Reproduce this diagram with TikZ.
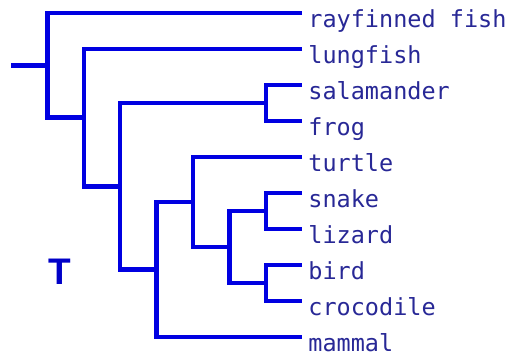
\documentclass[tikz,border=0pt]{standalone}
\usepackage{fontspec}
\usepackage{tikz}
\usetikzlibrary{positioning,calc}
\usepackage{xcolor}
\newfontfamily\leaffont{DejaVu Sans Mono}
\newfontfamily\markfont{Liberation Sans}
\definecolor{treeblue}{RGB}{0,0,225}
\definecolor{leafblue}{RGB}{40,40,150}
\definecolor{markblue}{RGB}{0,0,200}
\tikzset{
  branch/.style={draw=treeblue, line width=4.5pt},
  leaf/.style={anchor=base west, inner sep=0pt, text=leafblue, font=\leaffont\fontsize{23.5}{26}\selectfont}
}

\begin{document}
\begin{tikzpicture}[x=1pt, y=-1pt]
\useasboundingbox (0,0) rectangle (516,357);

\coordinate (stub) at (11,65.3);
\coordinate (nA) at (47.4,65.3);
\coordinate (nB) at (83.8,117.6);
\coordinate (nC) at (120.2,186.25);
\coordinate (nD) at (156.6,269.5);
\coordinate (nE) at (193,202);
\coordinate (nF) at (229.4,247);
\coordinate (nSF) at (265.8,103);
\coordinate (nSL) at (265.8,211);
\coordinate (nBC) at (265.8,283);

\foreach \name/\txt [count=\i from 0] in {ray/rayfinned fish, lung/lungfish, sal/salamander, frog/frog, turtle/turtle, snake/snake, lizard/lizard, bird/bird, croc/crocodile, mammal/mammal} {
  \coordinate (\name) at (302.2,13+36*\i);
  \node[leaf] (\name-label) at ([shift={(6,14)}]\name) {\txt};
}

\draw[branch] (stub) -- (nA);
\draw[branch] (ray) -| (nA) |- (nB);
\draw[branch] (lung) -| (nB) |- (nC);
\draw[branch] (nSF) -| (nC) |- (nD);
\draw[branch] (sal) -| (nSF) |- (frog);
\draw[branch] (nE) -| (nD) |- (mammal);
\draw[branch] (turtle) -| (nE) |- (nF);
\draw[branch] (nSL) -| (nF) |- (nBC);
\draw[branch] (snake) -| (nSL) |- (lizard);
\draw[branch] (bird) -| (nBC) |- (croc);

\node[text=markblue, font=\markfont\bfseries\fontsize{37}{40}\selectfont, inner sep=0pt] (mark) at (60,272) {T};
\end{tikzpicture}
\end{document}
